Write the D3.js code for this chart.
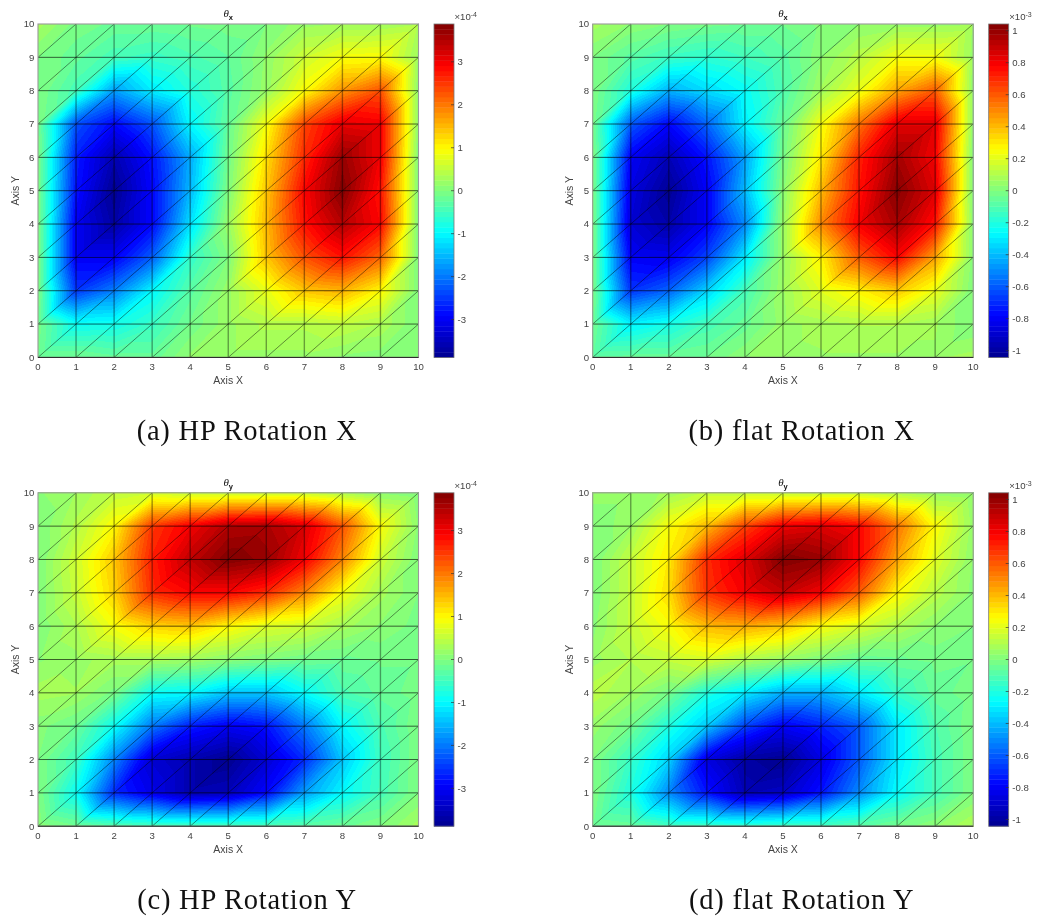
<!DOCTYPE html>
<html>

<head>
    <title>Rotation fields</title>
    <script src="https://d3js.org/d3.v7.min.js" charset="utf-8"></script>
    <style>
        body {
            margin: 0;
            background: #fff;
        }

        #chart {
            position: relative;
            width: 1037px;
            height: 920px;
            overflow: hidden;
            filter: blur(0.35px);
        }

        canvas,
        svg {
            position: absolute;
        }

        svg {
            left: 0;
            top: 0;
            font-family: "Liberation Sans", sans-serif;
        }

        .tick-label {
            font-size: 9.6px;
            fill: #444;
        }

        .axis-label {
            font-size: 10.5px;
            fill: #444;
        }

        .caption {
            font-family: "Liberation Serif", serif;
            font-size: 28.5px;
            letter-spacing: 0.8px;
            fill: #111;
        }
    </style>
</head>

<body>
    <div id="chart"></div>
    <script>
        // nodal values, first row is y = 10, last row is y = 0
        const hpRotationX = [
            [0.3, -0.05, -0.15, -0.15, -0.1, -0.05, 0, 0.2, 0.25, 0.25, 0.35],
            [0, -0.2, -0.45, -0.55, -0.4, -0.25, 0.15, 0.6, 0.9, 0.95, 0.2],
            [0, -0.45, -1.7, -1.1, -0.7, -0.3, 0.2, 0.95, 1.8, 2.3, 0.1],
            [-0.05, -2.3, -2.9, -2.3, -1, -0.2, 0.9, 2.4, 3.1, 3, 0.1],
            [0, -2.7, -3.6, -2.8, -1.6, -0.1, 1.2, 2.6, 3.7, 3, 0],
            [0, -2.8, -3.85, -2.9, -1.5, 0, 1.4, 2.9, 3.85, 2.8, 0],
            [0, -3, -3.7, -2.9, -1.2, 0.2, 1.5, 2.8, 3.5, 2.9, 0],
            [0, -3, -3, -2.2, -0.6, 0, 1.4, 2.3, 2.8, 2.15, 0],
            [0, -2.5, -1.95, -1, -0.3, 0.2, 0.8, 1.4, 1.55, 1, 0],
            [-0.05, -0.9, -0.85, -0.55, -0.1, 0.2, 0.4, 0.4, 0.5, 0.35, 0],
            [-0.1, -0.1, -0.2, -0.2, 0.15, 0.2, 0.2, 0.2, 0.1, 0.05, 0.1]
        ];
        const flatRotationX = [
            [0.08, 0.03, 0, -0.02, -0.03, -0.03, 0.01, 0.03, 0.05, 0.05, 0.06],
            [0, -0.08, -0.14, -0.17, -0.13, -0.08, 0.03, 0.12, 0.24, 0.24, 0.05],
            [0, -0.2, -0.42, -0.33, -0.25, -0.1, 0.07, 0.22, 0.45, 0.6, 0.03],
            [-0.02, -0.6, -0.78, -0.58, -0.28, -0.05, 0.24, 0.55, 0.84, 0.84, 0.03],
            [0, -0.8, -0.95, -0.75, -0.45, -0.02, 0.3, 0.72, 0.97, 0.8, 0],
            [0, -0.85, -1.03, -0.8, -0.4, 0.02, 0.4, 0.75, 1.03, 0.85, 0],
            [0, -0.88, -0.98, -0.8, -0.5, 0.05, 0.5, 0.8, 0.97, 0.75, 0.02],
            [0, -0.8, -0.82, -0.65, -0.3, 0.05, 0.28, 0.6, 0.78, 0.45, 0.02],
            [0, -0.68, -0.58, -0.35, -0.12, 0.06, 0.2, 0.28, 0.37, 0.22, 0],
            [-0.03, -0.28, -0.22, -0.12, -0.05, 0.05, 0.08, 0.1, 0.1, 0.07, 0],
            [-0.06, -0.05, -0.05, -0.03, 0.03, 0.05, 0.06, 0.06, 0.06, 0.06, 0.08]
        ];
        const hpRotationY = [
            [0.1, 0.25, 0.5, 0.6, 0.55, 0.55, 0.55, 0.55, 0.35, 0.1, 0],
            [0, 0.4, 1, 2.5, 3, 3.5, 3.55, 3.2, 2.3, 0.95, 0.1],
            [0, 0.6, 1.4, 2.7, 3.4, 3.88, 3.7, 3, 1.9, 0.6, 0],
            [0, 0.55, 1.3, 2.6, 2.9, 2.9, 2.6, 1.9, 0.9, 0.3, 0],
            [0, 0.35, 0.9, 1.3, 1.4, 1, 0.7, 0.6, 0.3, 0.1, -0.05],
            [0.1, 0.2, 0.3, 0.3, 0.25, 0.1, 0, -0.1, -0.15, -0.1, -0.1],
            [0.3, 0.25, -0.05, -0.9, -1, -1.4, -1.4, -0.95, -0.4, -0.2, -0.05],
            [0.05, -0.15, -0.9, -2, -2.7, -3, -2.8, -2, -1, -0.4, 0],
            [0, -0.5, -1.9, -3.3, -3.6, -3.88, -3.3, -2.6, -1.4, -0.5, 0],
            [0, -0.9, -2.6, -3.1, -3.6, -3.5, -2.9, -1.7, -1, -0.45, 0],
            [0.1, -0.1, -0.3, -0.4, -0.45, -0.45, -0.4, -0.3, -0.15, 0, 0.3]
        ];
        const flatRotationY = [
            [0.05, 0.05, 0.07, 0.14, 0.14, 0.14, 0.14, 0.14, 0.1, 0.05, 0.03],
            [0, 0.06, 0.25, 0.4, 0.65, 0.82, 0.85, 0.78, 0.55, 0.26, 0.05],
            [0, 0.14, 0.3, 0.7, 0.85, 1.04, 1, 0.78, 0.45, 0.2, 0.03],
            [0, 0.14, 0.33, 0.68, 0.8, 0.9, 0.8, 0.6, 0.27, 0.12, 0.02],
            [0.02, 0.14, 0.25, 0.4, 0.43, 0.38, 0.25, 0.18, 0.1, 0.03, 0],
            [0.05, 0.1, 0.14, 0.18, 0.1, 0.05, 0, -0.05, -0.04, -0.02, -0.03],
            [0.12, 0.06, -0.02, -0.2, -0.3, -0.42, -0.42, -0.3, -0.15, -0.05, -0.01],
            [0.05, -0.03, -0.2, -0.37, -0.65, -0.8, -0.72, -0.6, -0.3, -0.1, 0],
            [0, -0.15, -0.35, -0.85, -1, -1.04, -0.85, -0.6, -0.3, -0.12, 0],
            [0, -0.2, -0.5, -0.75, -0.95, -0.92, -0.75, -0.5, -0.26, -0.12, 0],
            [-0.03, -0.05, -0.12, -0.13, -0.15, -0.13, -0.12, -0.08, -0.02, 0.03, 0.1]
        ];

        const meshTicks = [0, 1, 2, 3, 4, 5, 6, 7, 8, 9, 10];
        const hpColorTicks = [-3, -2, -1, 0, 1, 2, 3];
        const flatColorTicks = [-1, -0.8, -0.6, -0.4, -0.2, 0, 0.2, 0.4, 0.6, 0.8, 1];
        const hpLimit = 3.88;
        const flatLimit = 1.042;
        const jetLevels = 64;

        const panels = [
            { values: hpRotationX, sub: 'x', caption: '(a) HP Rotation X', left: 38, top: 24, ticks: hpColorTicks, limit: hpLimit, exp: '-4' },
            { values: flatRotationX, sub: 'x', caption: '(b) flat Rotation X', left: 592.7, top: 24, ticks: flatColorTicks, limit: flatLimit, exp: '-3' },
            { values: hpRotationY, sub: 'y', caption: '(c) HP Rotation Y', left: 38, top: 492.8, ticks: hpColorTicks, limit: hpLimit, exp: '-4' },
            { values: flatRotationY, sub: 'y', caption: '(d) flat Rotation Y', left: 592.7, top: 492.8, ticks: flatColorTicks, limit: flatLimit, exp: '-3' }
        ];

        const plotW = 380.5;
        const plotH = 333.4;
        const barGap = 15.5;
        const barW = 20;

        const jet = d3.scaleLinear()
            .domain([0, 0.125, 0.375, 0.625, 0.875, 1])
            .range(['#00008f', '#0000ff', '#00ffff', '#ffff00', '#ff0000', '#800000'])
            .interpolate(d3.interpolateRgb);
        const jetColors = d3.range(jetLevels).map(i => jet((i + 0.5) / jetLevels));

        const chart = d3.select('#chart');
        const svg = chart.append('svg')
            .attr('width', 1037)
            .attr('height', 920);

        panels.forEach(drawPanel);

        function drawPanel(p) {
            const x = d3.scaleLinear().domain([0, 10]).range([p.left, p.left + plotW]);
            const y = d3.scaleLinear().domain([0, 10]).range([p.top + plotH, p.top]);
            const color = d3.scaleQuantize().domain([-p.limit, p.limit]).range(jetColors);

            paintField(p, x, y, color);

            const g = svg.append('g');

            // mesh: vertical lines come out wider and paler than the others
            g.selectAll('.mesh-v')
                .data(meshTicks.slice(1, -1))
                .enter()
                .append('line')
                .attr('x1', d => x(d)).attr('x2', d => x(d))
                .attr('y1', y(0)).attr('y2', y(10))
                .attr('stroke', '#000')
                .attr('stroke-opacity', 0.38)
                .attr('stroke-width', 1.4);
            g.selectAll('.mesh-h')
                .data(meshTicks.slice(1, -1))
                .enter()
                .append('line')
                .attr('x1', x(0)).attr('x2', x(10))
                .attr('y1', d => y(d)).attr('y2', d => y(d))
                .attr('stroke', '#000')
                .attr('stroke-opacity', 0.62)
                .attr('stroke-width', 1);
            g.selectAll('.mesh-d')
                .data(d3.range(-9, 10))
                .enter()
                .append('line')
                .attr('x1', d => x(Math.max(0, d)))
                .attr('y1', d => y(Math.max(0, -d)))
                .attr('x2', d => x(Math.min(10, 10 + d)))
                .attr('y2', d => y(Math.min(10, 10 - d)))
                .attr('stroke', '#000')
                .attr('stroke-opacity', 0.75)
                .attr('stroke-width', 0.6);

            // box
            g.append('rect')
                .attr('x', x(0)).attr('y', y(10))
                .attr('width', plotW).attr('height', plotH)
                .attr('fill', 'none')
                .attr('stroke', '#999')
                .attr('stroke-width', 1.1);
            g.append('line')
                .attr('x1', x(0)).attr('x2', x(10))
                .attr('y1', y(0)).attr('y2', y(0))
                .attr('stroke', '#222')
                .attr('stroke-width', 1);

            g.selectAll('.x-tick')
                .data(meshTicks)
                .enter()
                .append('text')
                .attr('class', 'tick-label')
                .attr('x', d => x(d))
                .attr('y', y(0) + 13)
                .attr('text-anchor', 'middle')
                .text(d => d);
            g.selectAll('.y-tick')
                .data(meshTicks)
                .enter()
                .append('text')
                .attr('class', 'tick-label')
                .attr('x', x(0) - 3.6)
                .attr('y', d => y(d) + 3.4)
                .attr('text-anchor', 'end')
                .text(d => d);

            g.append('text')
                .attr('class', 'axis-label')
                .attr('x', x(5))
                .attr('y', y(0) + 26.5)
                .attr('text-anchor', 'middle')
                .text('Axis X');
            g.append('text')
                .attr('class', 'axis-label')
                .attr('transform', `translate(${x(0) - 19.5},${y(5)}) rotate(-90)`)
                .attr('text-anchor', 'middle')
                .text('Axis Y');

            const title = g.append('text')
                .attr('x', x(5))
                .attr('y', y(10) - 7)
                .attr('text-anchor', 'middle')
                .attr('fill', '#111');
            title.append('tspan')
                .attr('font-family', '"Liberation Serif", serif')
                .attr('font-style', 'italic')
                .attr('font-size', 11)
                .text('θ');
            title.append('tspan')
                .attr('font-weight', 'bold')
                .attr('font-size', 7.5)
                .attr('dy', 3)
                .text(p.sub);

            // caption sits in the middle of plot plus colorbar
            g.append('text')
                .attr('class', 'caption')
                .attr('x', p.left + 209)
                .attr('y', y(0) + 83)
                .attr('text-anchor', 'middle')
                .text(p.caption);

            drawColorbar(g, p, x(10) + barGap, y);
        }

        function paintField(p, x, y, color) {
            const x0 = Math.floor(x(0));
            const y0 = Math.floor(y(10));
            const w = Math.ceil(x(10)) - x0;
            const h = Math.ceil(y(0)) - y0;
            const canvas = chart.insert('canvas', 'svg')
                .attr('width', w)
                .attr('height', h)
                .style('left', x0 + 'px')
                .style('top', y0 + 'px');
            const ctx = canvas.node().getContext('2d');
            const img = ctx.createImageData(w, h);
            const node = (i, j) => p.values[10 - j][i];

            for (let py = 0; py < h; py++) {
                for (let px = 0; px < w; px++) {
                    const vx = Math.max(0, Math.min(9.9999, x.invert(x0 + px + 0.5)));
                    const vy = Math.max(0, Math.min(9.9999, y.invert(y0 + py + 0.5)));
                    const i = Math.floor(vx);
                    const j = Math.floor(vy);
                    const fx = vx - i;
                    const fy = vy - j;
                    // every cell is split along its (i,j)-(i+1,j+1) diagonal
                    const v = fx > fy
                        ? node(i, j) + fx * (node(i + 1, j) - node(i, j)) + fy * (node(i + 1, j + 1) - node(i + 1, j))
                        : node(i, j) + fy * (node(i, j + 1) - node(i, j)) + fx * (node(i + 1, j + 1) - node(i, j + 1));
                    const c = d3.rgb(color(v));
                    const k = (py * w + px) * 4;
                    img.data[k] = c.r;
                    img.data[k + 1] = c.g;
                    img.data[k + 2] = c.b;
                    img.data[k + 3] = 255;
                }
            }
            ctx.putImageData(img, 0, 0);
        }

        function drawColorbar(g, p, left, y) {
            const bar = d3.scaleLinear().domain([-p.limit, p.limit]).range(y.range());
            const step = (p.limit * 2) / jetLevels;

            g.selectAll('.bar-level')
                .data(jetColors)
                .enter()
                .append('rect')
                .attr('x', left)
                .attr('width', barW)
                .attr('y', (d, i) => bar(-p.limit + (i + 1) * step))
                .attr('height', (d, i) => bar(-p.limit + i * step) - bar(-p.limit + (i + 1) * step) + 0.4)
                .attr('fill', d => d);
            g.append('rect')
                .attr('x', left)
                .attr('y', bar(p.limit))
                .attr('width', barW)
                .attr('height', plotH)
                .attr('fill', 'none')
                .attr('stroke', '#777')
                .attr('stroke-width', 0.8);

            g.selectAll('.bar-tick')
                .data(p.ticks)
                .enter()
                .append('line')
                .attr('x1', left + barW - 3)
                .attr('x2', left + barW)
                .attr('y1', d => bar(d))
                .attr('y2', d => bar(d))
                .attr('stroke', '#333')
                .attr('stroke-width', 0.7);
            g.selectAll('.bar-label')
                .data(p.ticks)
                .enter()
                .append('text')
                .attr('class', 'tick-label')
                .attr('x', left + barW + 3.5)
                .attr('y', d => bar(d) + 3.4)
                .text(d => d);

            const scaleLabel = g.append('text')
                .attr('class', 'tick-label')
                .attr('x', left + barW + 0.5)
                .attr('y', bar(p.limit) - 4);
            scaleLabel.append('tspan').text('×10');
            scaleLabel.append('tspan')
                .attr('font-size', 7)
                .attr('dy', -3)
                .text(p.exp);
        }
    </script>
</body>

</html>
